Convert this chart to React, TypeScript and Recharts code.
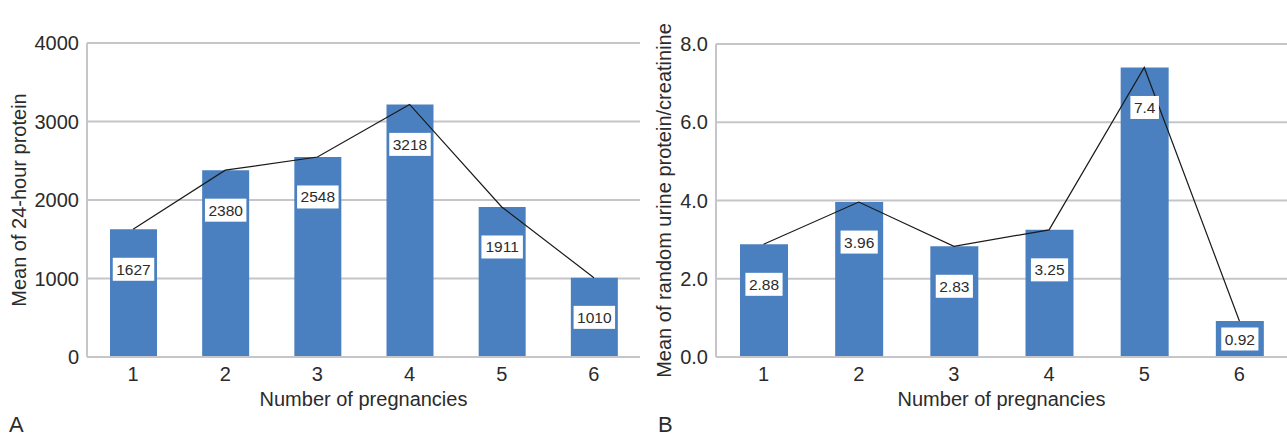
import { ComposedChart, Bar, Line, XAxis, YAxis, CartesianGrid, LabelList } from 'recharts';

const categories = ['1', '2', '3', '4', '5', '6'];
const protein24h = [1627, 2380, 2548, 3218, 1911, 1010];
const urineRatio = [2.88, 3.96, 2.83, 3.25, 7.4, 0.92];
const proteinTicks = [0, 1000, 2000, 3000, 4000];
const ratioTicks = [0, 2, 4, 6, 8];

const FONT = '"Liberation Sans", Arial, Helvetica, sans-serif';
const BAR_COLOR = '#4a80bf';
const GRID_COLOR = '#c6c6ca';
const TEXT_COLOR = '#2b2b2b';

const proteinData = categories.map((c, i) => ({ name: c, value: protein24h[i] }));
const ratioData = categories.map((c, i) => ({ name: c, value: urineRatio[i] }));

// rough Arial advance widths, for sizing the white label box
function textWidth(s: string, size: number) {
  let w = 0;
  for (const ch of s) w += ch === '.' ? 0.278 : 0.556;
  return w * size;
}

function ValueBox(props: any) {
  const { x, y, width, height, value } = props;
  const text = String(value);
  const fs = 15.5;
  const bw = textWidth(text, fs) + 7;
  const bh = 23;
  const cx = x + width / 2;
  const cy = y + Math.min(40, height / 2);
  return (
    <g>
      <rect x={cx - bw / 2} y={cy - bh / 2} width={bw} height={bh} fill="#fff" />
      <text x={cx} y={cy + 5.5} textAnchor="middle" fontSize={fs} fontFamily={FONT} fill={TEXT_COLOR}>
        {text}
      </text>
    </g>
  );
}

const tickStyle = { fontSize: 20, fill: TEXT_COLOR, fontFamily: FONT };
const titleStyle = { fontSize: 20, fill: TEXT_COLOR, fontFamily: FONT };

function Panel(props: {
  data: any[];
  width: number;
  margin: any;
  ticks: number[];
  domain: [number, number];
  fmt: (v: number) => string;
  yTitle: string;
  yTitleDx: number;
  barSize: number;
}) {
  const { data, width, margin, ticks, domain, fmt, yTitle, yTitleDx, barSize } = props;
  return (
    <ComposedChart width={width} height={438} data={data} margin={margin}>
      <CartesianGrid vertical={false} stroke={GRID_COLOR} strokeWidth={2} />
      <XAxis
        dataKey="name"
        height={50}
        tickLine={false}
        tickMargin={4}
        axisLine={{ stroke: GRID_COLOR, strokeWidth: 2 }}
        tick={tickStyle}
        label={{ value: 'Number of pregnancies', position: 'center', dy: 17, style: titleStyle }}
      />
      <YAxis
        width={55}
        domain={domain}
        ticks={ticks}
        tickFormatter={fmt}
        tickLine={false}
        tickMargin={2}
        axisLine={{ stroke: GRID_COLOR, strokeWidth: 2 }}
        tick={tickStyle}
        label={{ value: yTitle, angle: -90, position: 'center', dx: yTitleDx, style: titleStyle }}
      />
      <Bar dataKey="value" fill={BAR_COLOR} barSize={barSize} isAnimationActive={false}>
        <LabelList dataKey="value" content={<ValueBox />} />
      </Bar>
      <Line
        type="linear"
        dataKey="value"
        stroke="#1a1a1a"
        strokeWidth={1.2}
        dot={false}
        activeDot={false}
        isAnimationActive={false}
      />
    </ComposedChart>
  );
}

export default function App() {
  return (
    <div style={{ position: 'absolute', left: 0, top: 0, width: 1287, height: 438, background: '#fff' }}>
      <div style={{ position: 'absolute', left: 0, top: 0 }}>
        <Panel
          data={proteinData}
          width={645}
          margin={{ top: 43, right: 5, bottom: 31, left: 32 }}
          ticks={proteinTicks}
          domain={[0, 4000]}
          fmt={(v) => String(v)}
          yTitle="Mean of 24-hour protein"
          yTitleDx={-41}
          barSize={47}
        />
      </div>
      <div style={{ position: 'absolute', left: 645, top: 0 }}>
        <Panel
          data={ratioData}
          width={642}
          margin={{ top: 44, right: 0, bottom: 31, left: 16 }}
          ticks={ratioTicks}
          domain={[0, 8]}
          fmt={(v) => v.toFixed(1)}
          yTitle="Mean of random urine protein/creatinine"
          yTitleDx={-25}
          barSize={48}
        />
      </div>
      <svg width={1287} height={438} style={{ position: 'absolute', left: 0, top: 0, pointerEvents: 'none' }}>
        <text x={9} y={432} fontSize={22} fontFamily={FONT} fill={TEXT_COLOR}>A</text>
        <text x={658} y={432} fontSize={22} fontFamily={FONT} fill={TEXT_COLOR}>B</text>
      </svg>
    </div>
  );
}
